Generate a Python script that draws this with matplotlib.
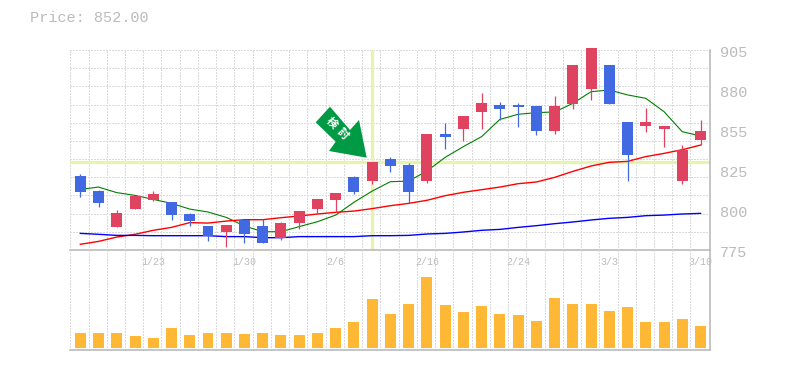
#!/usr/bin/env python3
# -*- encoding: utf-8 -*-

import numpy as np
from matplotlib import pyplot as plt
from matplotlib.patches import Polygon

plt.rcParams["font.family"] = ["Noto Sans CJK JP", "DejaVu Sans"]

PRICE_LABEL = "Price: 852.00"
SIGNAL_LABEL = "検討"

price_ticks = [905, 879, 853, 827, 801, 775]
price_tick_labels = ["905", "880", "855", "825", "800", "775"]
date_index = [4, 9, 14, 19, 24, 29, 34]
date_labels = ["1/23", "1/30", "2/6", "2/16", "2/24", "3/3", "3/10"]
signal_index = 16
signal_price = 832.2

opens = [
    823.1, 813.35, 789.95, 801.65, 807.5, 806.2, 798.4, 790.6, 786.7, 794.5,
    790.6, 782.8, 792.55, 801.65, 807.5, 822.45, 819.85, 834.15, 830.25, 819.85,
    850.4, 853.65, 864.7, 869.25, 869.25, 868.6, 852.35, 869.9, 879.65, 895.25,
    858.2, 855.6, 853.65, 819.85, 846.5,
]
closes = [
    812.7, 805.55, 799.05, 810.1, 811.4, 797.75, 793.85, 784.1, 791.25, 785.4,
    779.55, 792.55, 800.35, 808.15, 812.05, 812.7, 832.2, 829.6, 812.7, 850.4,
    848.45, 862.1, 870.55, 866.65, 867.95, 852.35, 868.6, 895.25, 906.3, 869.9,
    836.75, 858.2, 855.6, 840.0, 852.35,
]
highs = [
    824.4, 814.0, 801.0, 810.1, 813.35, 806.2, 799.05, 790.6, 791.25, 794.5,
    795.15, 793.2, 800.35, 808.15, 812.05, 823.1, 832.2, 835.45, 831.55, 850.4,
    857.55, 862.1, 877.05, 871.2, 870.55, 868.6, 875.1, 895.25, 906.3, 895.25,
    858.2, 867.3, 855.6, 843.25, 859.5,
]
lows = [
    809.45, 802.95, 789.95, 801.65, 806.85, 794.5, 790.6, 780.85, 776.95, 779.55,
    779.55, 781.5, 788.65, 798.4, 799.7, 811.4, 817.9, 825.7, 805.55, 818.55,
    840.65, 845.85, 853.65, 859.5, 854.95, 849.75, 850.4, 866.65, 872.5, 869.9,
    819.85, 851.7, 841.95, 817.9, 843.25,
]
ma_short = [
    814.4, 815.9, 812.3, 810.5, 807.9, 805.3, 801.6, 799.7, 796.2, 790.6,
    786.9, 786.9, 790.2, 793.4, 797.7, 806.0, 813.3, 819.4, 819.8, 826.3,
    835.2, 842.2, 848.7, 859.9, 863.2, 864.3, 864.7, 870.3, 877.9, 879.0,
    875.8, 873.6, 864.9, 851.9, 849.1,
]
ma_mid = [
    778.7, 780.6, 783.4, 785.2, 787.8, 789.7, 792.8, 792.5, 793.8, 794.7,
    794.7, 796.0, 797.1, 798.4, 799.5, 800.3, 801.9, 803.8, 805.3, 807.3,
    810.3, 812.5, 814.2, 815.9, 818.1, 819.2, 822.2, 826.1, 829.6, 832.0,
    832.6, 835.7, 837.8, 840.2, 843.2,
]
ma_long = [
    785.8, 785.2, 784.5, 784.5, 784.3, 784.3, 784.3, 784.3, 783.7, 783.7,
    783.0, 783.0, 783.7, 783.7, 783.7, 783.7, 784.3, 784.3, 784.5, 785.4,
    785.8, 786.7, 787.8, 788.4, 789.7, 790.8, 792.1, 793.2, 794.5, 795.6,
    796.2, 797.3, 797.7, 798.4, 798.8,
]
volumes = [
    15, 15, 15, 12, 10, 20, 13, 15, 15, 14, 15, 13, 13, 15, 20, 26, 49, 34,
    44, 71, 43, 36, 42, 34, 33, 27, 50, 44, 44, 37, 41, 26, 26, 29, 22,
]

GREY = "#bbbbbb"
GRID = "#dadada"
UP = "#e04360"
DOWN = "#4169e1"
HILITE = "#e6f5ac"
WIDTH, HEIGHT = 785, 370
GRID_DASH = (0, (2, 2))


def pixel_axes(fig, left, top, right, bottom):
    return fig.add_axes(
        [left / WIDTH, 1 - bottom / HEIGHT, (right - left) / WIDTH, (bottom - top) / HEIGHT]
    )


def style_axes(ax):
    for side in ["left", "top"]:
        ax.spines[side].set_visible(False)
    for side in ["right", "bottom"]:
        ax.spines[side].set_color(GREY)
        ax.spines[side].set_linewidth(1.2)
    ax.set_axisbelow(True)
    ax.set_xticks(np.arange(35) - 0.55)
    ax.set_xticklabels([])
    ax.tick_params(length=0)
    ax.grid(True, axis="x", color=GRID, linestyle=GRID_DASH, linewidth=0.72, antialiased=False)
    ax.set_xlim(-0.565, 34.52)


def main():
    fig = plt.figure(figsize=(WIDTH / 100, HEIGHT / 100), dpi=100)
    x = np.arange(len(opens))

    ax = pixel_axes(fig, 70, 50, 710, 250)
    style_axes(ax)
    ax.set_ylim(775, 905)
    ax.set_yticks(np.linspace(775, 905, 12))
    ax.set_yticklabels([])
    ax.grid(True, axis="y", color=GRID, linestyle=GRID_DASH, linewidth=0.72, antialiased=False)

    ax.axhline(signal_price, color=HILITE, linewidth=2.3, zorder=1.5)
    ax.axvline(signal_index, color=HILITE, linewidth=2.3, zorder=1.5)

    ax.plot(x, ma_short, color="#008000", linewidth=0.8, zorder=2)
    ax.plot(x, ma_mid, color="#ff0000", linewidth=1.0, zorder=2)
    ax.plot(x, ma_long, color="#0000ff", linewidth=1.0, zorder=2)

    colors = [UP if c >= o else DOWN for o, c in zip(opens, closes)]
    body_low = np.minimum(opens, closes)
    body_size = np.abs(np.array(closes) - np.array(opens))
    ax.vlines(x, lows, highs, colors=colors, linewidth=0.9, zorder=3, clip_on=False)
    ax.bar(x, body_size, bottom=body_low, width=0.6, color=colors, zorder=3, clip_on=False)

    # price labels sit a few pixels below their level, as in the original
    for price, label in zip(price_ticks, price_tick_labels):
        ax.annotate(
            label,
            (1, price),
            xycoords=("axes fraction", "data"),
            xytext=(7.2, -2.2),
            textcoords="offset points",
            color=GREY,
            fontsize=11,
            family="Liberation Mono",
            va="center",
            ha="left",
        )
    for i, label in zip(date_index, date_labels):
        ax.annotate(
            label,
            (i, 775),
            xytext=(0, -8.6),
            textcoords="offset points",
            color=GREY,
            fontsize=7.2,
            family="Liberation Mono",
            ha="center",
            va="center",
            annotation_clip=False,
            zorder=5,
        )

    fig.text(30 / WIDTH, 1 - 18 / HEIGHT, PRICE_LABEL, color=GREY, fontsize=11,
             family="Liberation Mono", va="center", ha="left")

    # green signal arrow, laid out in figure pixels
    arrow = [(330, 106.7), (315.7, 122.3), (335.7, 141.7), (329, 151),
             (366.7, 157.7), (359, 120), (350, 130)]
    fig.add_artist(
        Polygon(
            [(px / WIDTH, 1 - py / HEIGHT) for px, py in arrow],
            closed=True,
            facecolor="#009944",
            edgecolor="none",
            transform=fig.transFigure,
            zorder=6,
        )
    )
    for char, (px, py) in zip(SIGNAL_LABEL, [(332, 123), (343, 134)]):
        fig.text(px / WIDTH, 1 - py / HEIGHT, char, color="white", fontsize=8,
                 fontweight="bold", rotation=-45, rotation_mode="anchor",
                 ha="center", va="center", zorder=7)

    ax_vol = pixel_axes(fig, 70, 250, 710, 350)
    style_axes(ax_vol)
    ax_vol.set_ylim(-2, 98)
    ax_vol.set_yticks([])
    ax_vol.bar(x, volumes, width=0.6, color="#ffb835", zorder=3)
    ax_vol.patch.set_alpha(0)

    fig.savefig("out.png", dpi=100)
    plt.close(fig)


if __name__ == "__main__":
    main()
